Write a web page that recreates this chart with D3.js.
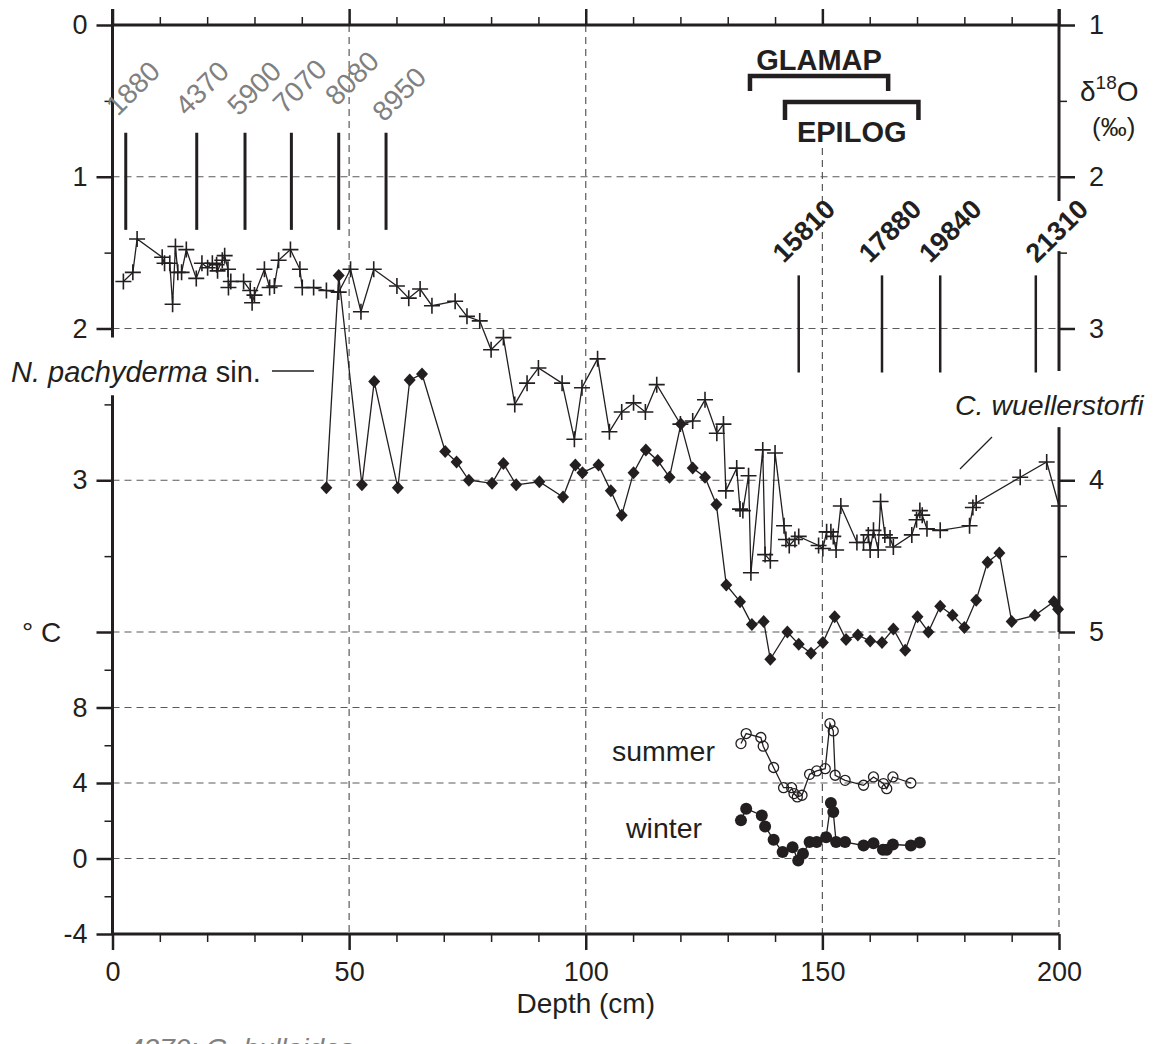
<!DOCTYPE html>
<html>
<head>
<meta charset="utf-8">
<script src="https://cdn.jsdelivr.net/npm/d3@7"></script>
<style>
    body { margin: 0; background: #fff; }
    svg text { font-family: "Liberation Sans", Arial, Helvetica, sans-serif; }
</style>
</head>
<body>
<svg id="chart" width="1154" height="1044"></svg>
<script>
const width = 1154, height = 1044;
const ink = "#231f20", gray = "#808080";
const font = '"Liberation Sans", Arial, Helvetica, sans-serif';

// C. wuellerstorfi d18O (right axis), crosses
const cwDepth = [2.3, 4.3, 5.2, 10.5, 11.0, 12.1, 12.7, 13.3, 13.8, 14.6,
    15.6, 17.7, 18.9, 20.1, 21.1, 22.0, 22.2, 23.2, 23.7, 24.4,
    24.5, 25.0, 27.7, 29.1, 29.5, 30.0, 32.1, 33.2, 34.2, 35.1,
    37.6, 39.6, 40.1, 42.5, 45.2, 47.8, 50.3, 52.5, 55.2, 60.1,
    62.6, 65.0, 67.5, 72.4, 74.9, 77.6, 80.0, 82.6, 85.0, 87.6,
    90.0, 95.0, 97.6, 99.2, 102.5, 105.0, 107.6, 110.1, 112.6, 115.0,
    120.0, 122.6, 125.2, 127.7, 129.1, 129.6, 131.9, 132.6, 133.2, 134.4,
    134.9, 137.4, 137.9, 139.0, 140.0, 141.9, 142.3, 143.0, 144.2, 145.0,
    149.2, 150.1, 150.9, 151.8, 152.3, 152.9, 153.9, 157.3, 158.7, 159.7,
    160.1, 160.8, 161.8, 162.3, 163.2, 164.3, 165.0, 168.9, 169.9, 170.6,
    171.1, 172.1, 174.9, 181.1, 181.8, 182.5, 191.8, 197.4, 200.0];
const cwD18O = [2.69, 2.63, 2.41, 2.53, 2.57, 2.57, 2.84, 2.46, 2.63, 2.63,
    2.48, 2.67, 2.57, 2.60, 2.57, 2.58, 2.62, 2.55, 2.52, 2.61,
    2.73, 2.69, 2.69, 2.75, 2.83, 2.78, 2.61, 2.73, 2.72, 2.55,
    2.48, 2.61, 2.73, 2.73, 2.75, 2.76, 2.61, 2.89, 2.61, 2.72,
    2.80, 2.74, 2.85, 2.82, 2.92, 2.95, 3.14, 3.06, 3.50, 3.36,
    3.26, 3.36, 3.73, 3.39, 3.20, 3.68, 3.55, 3.49, 3.55, 3.37,
    3.63, 3.61, 3.47, 3.69, 3.63, 4.07, 3.92, 4.19, 4.20, 3.97,
    4.61, 3.80, 4.49, 4.53, 3.82, 4.30, 4.39, 4.43, 4.39, 4.37,
    4.43, 4.45, 4.34, 4.34, 4.37, 4.46, 4.17, 4.41, 4.41, 4.36,
    4.46, 4.33, 4.46, 4.14, 4.36, 4.38, 4.44, 4.36, 4.26, 4.20,
    4.23, 4.32, 4.33, 4.30, 4.18, 4.15, 3.98, 3.88, 4.17];

// N. pachyderma sin. d18O (left axis), diamonds
const npDepth = [45.2, 47.8, 52.7, 55.3, 60.3, 62.8, 65.4, 70.3, 72.7, 75.3,
    80.2, 82.6, 85.3, 90.2, 95.2, 97.8, 99.3, 102.7, 105.3, 107.6,
    110.1, 112.7, 115.2, 117.7, 120.1, 122.6, 125.2, 127.6, 129.7, 132.6,
    135.1, 137.6, 139.0, 142.6, 145.0, 147.6, 150.1, 152.6, 155.0, 157.5,
    160.1, 162.6, 165.0, 167.5, 170.1, 172.4, 174.9, 177.5, 180.0, 182.5,
    184.9, 187.4, 190.0, 194.9, 198.9, 199.8];
const npD18O = [3.05, 1.65, 3.03, 2.35, 3.05, 2.34, 2.30, 2.81, 2.88, 3.00,
    3.02, 2.89, 3.03, 3.01, 3.11, 2.90, 2.95, 2.90, 3.07, 3.23,
    2.95, 2.80, 2.87, 2.98, 2.63, 2.92, 2.98, 3.16, 3.69, 3.80,
    3.95, 3.93, 4.18, 4.00, 4.08, 4.14, 4.07, 3.90, 4.05, 4.02,
    4.06, 4.07, 3.98, 4.12, 3.90, 4.00, 3.83, 3.89, 3.97, 3.79,
    3.54, 3.48, 3.93, 3.89, 3.80, 3.85];

// SST (deg C)
const summerDepth = [132.8, 133.9, 137.0, 137.5, 139.7, 141.8, 143.5, 144.0, 144.7, 145.7,
    147.3, 148.8, 150.6, 151.6, 152.3, 152.7, 154.8, 158.7, 160.8, 162.9,
    163.6, 164.9, 168.7];
const summerTemp = [6.09, 6.62, 6.41, 5.95, 4.82, 3.75, 3.75, 3.44, 3.26, 3.35,
    4.46, 4.64, 4.76, 7.15, 6.76, 4.41, 4.14, 3.88, 4.32, 3.97,
    3.70, 4.32, 4.00];
const winterDepth = [132.8, 133.9, 137.2, 137.9, 139.7, 141.6, 143.7, 144.9, 145.9, 147.3,
    148.8, 150.8, 151.8, 152.3, 152.9, 154.8, 158.7, 160.8, 162.8, 163.6,
    164.9, 168.7, 170.6];
const winterTemp = [2.02, 2.64, 2.28, 1.70, 0.99, 0.34, 0.60, -0.11, 0.25, 0.87,
    0.87, 1.13, 2.94, 2.46, 0.87, 0.87, 0.69, 0.81, 0.46, 0.46,
    0.74, 0.69, 0.85];

// AMS 14C ages
const ageTopDepth = [2.8, 17.8, 28.0, 37.8, 47.8, 57.8];
const ageTop = ["1880", "4370", "5900", "7070", "8080", "8950"];
const ageBotDepth = [145.0, 162.6, 174.9, 195.1];
const ageBot = ["15810", "17880", "19840", "21310"];

// time slices
const sliceNames = ["GLAMAP", "EPILOG"];
const sliceFrom = [134.7, 142.1];
const sliceTo = [163.9, 170.3];

// ticks
const depthTicks = [0, 50, 100, 150, 200];
const depthMinor = [10, 20, 30, 40, 60, 70, 80, 90, 110, 120, 130, 140, 160, 170, 180, 190];
const leftTicks = [0, 1, 2, 3];
const leftMinor = [0.5, 1.5, 2.5, 3.5];
const rightTicks = [1, 2, 3, 4, 5];
const rightMinor = [1.5, 2.5, 4.5];
const tempTicks = [-4, 0, 4, 8];
const tempMinor = [-2, 2, 6, 10];

const svg = d3.select("#chart");

const x = d3.scaleLinear().domain([0, 200]).range([112.5, 1059]);
const yL = d3.scaleLinear().domain([0, 4]).range([25, 632]);
const yR = d3.scaleLinear().domain([1, 5]).range([25, 632]);
const yT = d3.scaleLinear().domain([-4, 12]).range([934, 632]);
const plain = d => String(d);

// grid
const grid = svg.append("g")
    .attr("stroke", "#5a5a5a")
    .attr("stroke-width", 1.2)
    .attr("stroke-dasharray", "7,5");
[1, 2, 3, 4].forEach(v => grid.append("line")
    .attr("x1", x(0)).attr("x2", x(200)).attr("y1", yL(v)).attr("y2", yL(v)));
[0, 4, 8].forEach(v => grid.append("line")
    .attr("x1", x(0)).attr("x2", x(200)).attr("y1", yT(v)).attr("y2", yT(v)));
[[50, 0], [100, 0], [150, 0.81], [200, 4]].forEach(([d, top]) => grid.append("line")
    .attr("x1", x(d)).attr("x2", x(d)).attr("y1", yL(top)).attr("y2", yT(-4)));

// axes
function styleAxis(g, w) {
    g.select(".domain").remove();
    g.attr("font-family", font);
    g.selectAll(".tick line").attr("stroke", ink).attr("stroke-width", w);
    g.selectAll(".tick text").attr("font-size", 27).attr("fill", ink);
}

svg.append("g").attr("transform", "translate(" + x(0) + ",0)")
    .call(d3.axisLeft(yL).tickValues(leftTicks).tickSize(16).tickPadding(9).tickFormat(plain))
    .call(g => styleAxis(g, 2.5));
svg.append("g").attr("transform", "translate(" + x(0) + ",0)")
    .call(d3.axisLeft(yL).tickValues([4]).tickSize(16).tickFormat(""))
    .call(g => styleAxis(g, 2.5));
svg.append("g").attr("transform", "translate(" + x(0) + ",0)")
    .call(d3.axisLeft(yL).tickValues(leftMinor).tickSize(8).tickFormat(""))
    .call(g => styleAxis(g, 1.5));
svg.append("g").attr("transform", "translate(" + x(0) + ",0)")
    .call(d3.axisLeft(yT).tickValues(tempTicks).tickSize(16).tickPadding(9).tickFormat(plain))
    .call(g => styleAxis(g, 2.5));
svg.append("g").attr("transform", "translate(" + x(0) + ",0)")
    .call(d3.axisLeft(yT).tickValues(tempMinor).tickSize(8).tickFormat(""))
    .call(g => styleAxis(g, 1.5));

svg.append("g").attr("transform", "translate(" + x(200) + ",0)")
    .call(d3.axisRight(yR).tickValues(rightTicks).tickSize(16).tickPadding(14).tickFormat(plain))
    .call(g => styleAxis(g, 2.5));
svg.append("g").attr("transform", "translate(" + x(200) + ",0)")
    .call(d3.axisRight(yR).tickValues(rightMinor).tickSize(8).tickFormat(""))
    .call(g => styleAxis(g, 1.5));

svg.append("g").attr("transform", "translate(0," + yL(0) + ")")
    .call(d3.axisTop(x).tickValues(depthTicks).tickSize(16).tickFormat(""))
    .call(g => styleAxis(g, 2.5));
svg.append("g").attr("transform", "translate(0," + yL(0) + ")")
    .call(d3.axisTop(x).tickValues(depthMinor).tickSize(8).tickFormat(""))
    .call(g => styleAxis(g, 1.5));
svg.append("g").attr("transform", "translate(0," + yT(-4) + ")")
    .call(d3.axisBottom(x).tickValues(depthTicks).tickSize(16).tickPadding(12).tickFormat(plain))
    .call(g => styleAxis(g, 2.5));
svg.append("g").attr("transform", "translate(0," + yT(-4) + ")")
    .call(d3.axisBottom(x).tickValues(depthMinor).tickSize(8).tickFormat(""))
    .call(g => styleAxis(g, 1.5));

// axis lines (broken where labels sit)
const frame = svg.append("g").attr("stroke", ink).attr("stroke-width", 3).attr("fill", "none");
frame.append("line").attr("x1", x(0)).attr("x2", x(200)).attr("y1", yL(0)).attr("y2", yL(0));
frame.append("line").attr("x1", x(0)).attr("x2", x(200)).attr("y1", yT(-4)).attr("y2", yT(-4));
[[yL(0) - 16, yL(2.06)], [yL(2.44), yT(-4)]].forEach(([a, b]) => frame.append("line")
    .attr("x1", x(0)).attr("x2", x(0)).attr("y1", a).attr("y2", b));
[[yR(1) - 16, yR(2.16)], [yR(2.49), yR(3.28)], [yR(3.65), yR(5)]].forEach(([a, b]) => frame.append("line")
    .attr("x1", x(200)).attr("x2", x(200)).attr("y1", a).attr("y2", b));

// axis titles
svg.append("text").attr("x", 22).attr("y", yL(4) + 10).attr("font-size", 28).attr("fill", ink)
    .text("° C");
const dlab = svg.append("text").attr("x", x(200) + 21).attr("y", 101).attr("font-size", 28).attr("fill", ink);
dlab.append("tspan").text("δ");
dlab.append("tspan").attr("font-size", 19).attr("dy", -12).text("18");
dlab.append("tspan").attr("dy", 12).text("O");
svg.append("text").attr("x", x(200) + 33).attr("y", 136).attr("font-size", 26).attr("fill", ink)
    .text("(‰)");
svg.append("text").attr("x", x(100)).attr("y", 1013).attr("text-anchor", "middle")
    .attr("font-size", 28).attr("fill", ink).text("Depth (cm)");
svg.append("text").attr("x", 128).attr("y", 1058).attr("font-size", 28).attr("font-style", "italic")
    .attr("fill", gray).text("4370: G. bulloides");

// age markers
const ageTopNudge = [[-8, 0], [-10, 0], [-6, 0], [-7, -2], [-2, -10], [-2, 6]];
ageTopDepth.forEach((d, i) => {
    svg.append("line").attr("x1", x(d)).attr("x2", x(d)).attr("y1", yL(0.71)).attr("y2", yL(1.35))
        .attr("stroke", ink).attr("stroke-width", 3);
    const lx = x(d) + ageTopNudge[i][0], ly = 117 + ageTopNudge[i][1];
    svg.append("text").attr("transform", "translate(" + lx + "," + ly + ") rotate(-45)")
        .attr("font-size", 28).attr("fill", gray).text(ageTop[i]);
});
const ageBotNudge = [-15, -12, -10, 1];
ageBotDepth.forEach((d, i) => {
    svg.append("line").attr("x1", x(d)).attr("x2", x(d)).attr("y1", yL(1.65)).attr("y2", yL(2.29))
        .attr("stroke", ink).attr("stroke-width", 2.5);
    const lx = x(d) + ageBotNudge[i];
    svg.append("text").attr("transform", "translate(" + lx + ",264) rotate(-45)")
        .attr("font-size", 27).attr("font-weight", "bold").attr("fill", ink).text(ageBot[i]);
});

// time-slice brackets
const sliceTop = [76, 102], sliceDrop = [15, 18], sliceText = [70, 142];
sliceNames.forEach((name, i) => {
    const a = x(sliceFrom[i]), b = x(sliceTo[i]);
    svg.append("path")
        .attr("d", "M" + a + "," + (sliceTop[i] + sliceDrop[i]) + "V" + sliceTop[i] + "H" + b + "V" + (sliceTop[i] + sliceDrop[i]))
        .attr("fill", "none").attr("stroke", ink).attr("stroke-width", 4.5);
    svg.append("text").attr("x", (a + b) / 2).attr("y", sliceText[i]).attr("text-anchor", "middle")
        .attr("font-size", 29).attr("font-weight", "bold").attr("fill", ink).text(name);
});

// series lines
function drawLine(xs, ys, yScale) {
    const pts = xs.map((d, i) => [x(d), yScale(ys[i])]);
    svg.append("path").attr("d", d3.line()(pts))
        .attr("fill", "none").attr("stroke", ink).attr("stroke-width", 1.3);
    return pts;
}

const cwPts = drawLine(cwDepth, cwD18O, yR);
svg.append("g").selectAll("path").data(cwPts).join("path")
    .attr("d", p => "M" + (p[0] - 8) + "," + p[1] + "H" + (p[0] + 8) + "M" + p[0] + "," + (p[1] - 8) + "V" + (p[1] + 8))
    .attr("stroke", ink).attr("stroke-width", 1.6);

const npPts = drawLine(npDepth, npD18O, yL);
svg.append("g").selectAll("path").data(npPts).join("path")
    .attr("d", p => "M" + p[0] + "," + (p[1] - 6.5) + "L" + (p[0] + 6) + "," + p[1] + "L" + p[0] + "," + (p[1] + 6.5) + "L" + (p[0] - 6) + "," + p[1] + "Z")
    .attr("fill", ink);

const suPts = drawLine(summerDepth, summerTemp, yT);
svg.append("g").selectAll("circle").data(suPts).join("circle")
    .attr("cx", p => p[0]).attr("cy", p => p[1]).attr("r", 5)
    .attr("fill", "none").attr("stroke", ink).attr("stroke-width", 1.3);

const wiPts = drawLine(winterDepth, winterTemp, yT);
svg.append("g").selectAll("circle").data(wiPts).join("circle")
    .attr("cx", p => p[0]).attr("cy", p => p[1]).attr("r", 6)
    .attr("fill", ink);

// series labels
const np = svg.append("text").attr("x", 11).attr("y", 382).attr("font-size", 29).attr("fill", ink);
np.append("tspan").attr("font-style", "italic").text("N. pachyderma");
np.append("tspan").text(" sin.");
svg.append("line").attr("x1", 272).attr("x2", 314).attr("y1", 371).attr("y2", 371)
    .attr("stroke", ink).attr("stroke-width", 1.3);
svg.append("text").attr("x", 955).attr("y", 415).attr("font-size", 28.5).attr("font-style", "italic")
    .attr("fill", ink).text("C. wuellerstorfi");
svg.append("line").attr("x1", 960).attr("x2", 992).attr("y1", 469).attr("y2", 437)
    .attr("stroke", ink).attr("stroke-width", 1.3);
svg.append("text").attr("x", 612).attr("y", 761).attr("font-size", 28.5).attr("fill", ink).text("summer");
svg.append("text").attr("x", 626).attr("y", 838).attr("font-size", 28.5).attr("fill", ink).text("winter");
</script>
</body>
</html>
